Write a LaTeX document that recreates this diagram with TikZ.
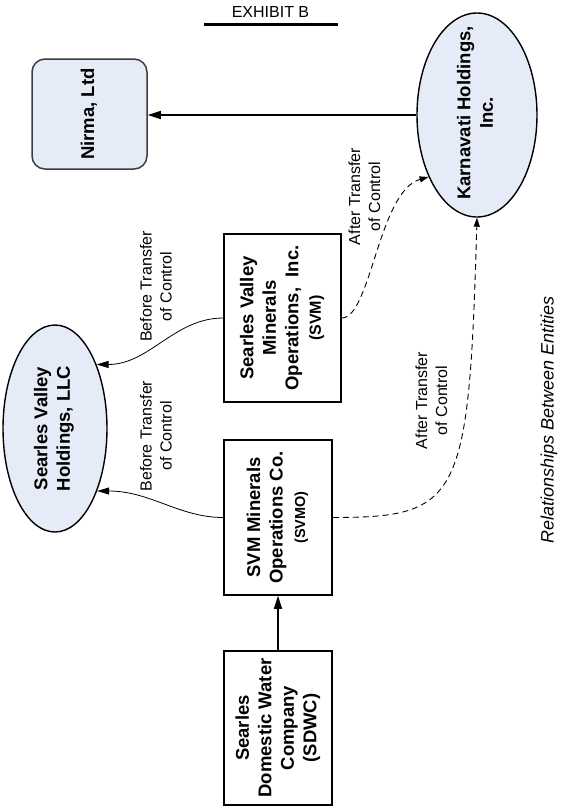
\documentclass[tikz,border=0pt]{standalone}
\usepackage{fontspec}
\setmainfont{Liberation Sans}
\usetikzlibrary{shapes.geometric,arrows.meta}
\definecolor{lblue}{RGB}{230,236,247}
\definecolor{bordergray}{RGB}{60,60,60}
\newcommand\rtext[1]{\rotatebox{90}{\begin{tabular}{@{}c@{}}#1\end{tabular}}}
\begin{document}
\begin{tikzpicture}[x=1pt,y=-1pt,
  boxtxt/.style={font=\fontsize{18.5}{22.5}\selectfont\bfseries},
  entbox/.style={draw, line width=1.5pt, inner sep=0pt, boxtxt},
  entell/.style={ellipse, draw, line width=1.4pt, fill=lblue, inner sep=0pt},
  elltxt/.style={inner sep=0pt, boxtxt},
  lbl/.style={font=\fontsize{16}{20}\selectfont, align=center, rotate=90, inner sep=0pt},
  solidarr/.style={line width=1.2pt, -{Triangle[length=13pt,width=8pt]}},
  curvarr/.style={line width=0.8pt, -{Triangle[length=12pt,width=7pt]}},
  dasharr/.style={line width=0.9pt, dash pattern=on 6pt off 4pt, -{Triangle[length=9pt,width=6pt]}},
]
\useasboundingbox[fill=white] (0,0) rectangle (561,807);

% title
\node[font=\fontsize{16}{19}\selectfont, inner sep=0pt] (title) at (270.5,12) {EXHIBIT B};
\draw[line width=3.5pt] (204,24.3) -- (338,24.3);

% entities
\node[entbox, rounded corners=13pt, fill=lblue, draw=bordergray, minimum width=115pt, minimum height=110pt] (nirma) at (89.5,114) {\rtext{Nirma, Ltd}};

\node[entell, minimum width=120pt, minimum height=204pt] (karn) at (477,115) {};
\node[elltxt] (karnt) at (477,113) {\rtext{Karnavati Holdings,\\Inc.}};

\node[entell, minimum width=104pt, minimum height=207pt] (svh) at (55,428.5) {};
\node[elltxt] (svht) at (54,428.5) {\rtext{Searles Valley\\Holdings, LLC}};

\node[entbox, minimum width=117pt, minimum height=168pt] (svm) at (282.5,318) {\rtext{Searles Valley\\Minerals\\Operations,~ Inc.\\{\fontsize{16}{20}\selectfont (SVM)}}};

\node[entbox, minimum width=108pt, minimum height=155pt] (svmo) at (278,517.5) {\rtext{SVM Minerals\\Operations Co.\\{\fontsize{14.5}{18}\selectfont (SVMO)}}};

\node[entbox, minimum width=108pt, minimum height=154pt] (sdwc) at (278,728) {\rtext{Searles\\Domestic Water\\Company\\(SDWC)}};

% labels
\node[lbl] (l1) at (156,286.5) {Before Transfer\\of Control};
\node[lbl] (l2) at (156,436) {Before Transfer\\of Control};
\node[lbl] (l3) at (364.5,196.5) {After Transfer\\of Control};
\node[lbl] (l4) at (431.5,400.5) {After Transfer\\of Control};
\node[font=\fontsize{18}{22}\selectfont\itshape, rotate=90, inner sep=0pt] (rel) at (549,420) {Relationships Between Entities};

% connectors
\draw[solidarr] (karn.west) -- (karn.west -| nirma.east);
\draw[solidarr] (sdwc.north) -- (svmo.south);
\draw[curvarr] (svm.west) .. controls +(-49,0) and +(53,0) .. (svh.57);
\draw[curvarr] (svmo.west) .. controls +(-44,0) and +(53,0) .. (svh.-56);
\draw[dasharr] (svm.east) .. controls +(29,0) and +(-50,14) .. (karn.232);
\draw[dasharr] (svmo.east) .. controls +(128,0) and +(-8,282) .. (karn.south);
\end{tikzpicture}
\end{document}
